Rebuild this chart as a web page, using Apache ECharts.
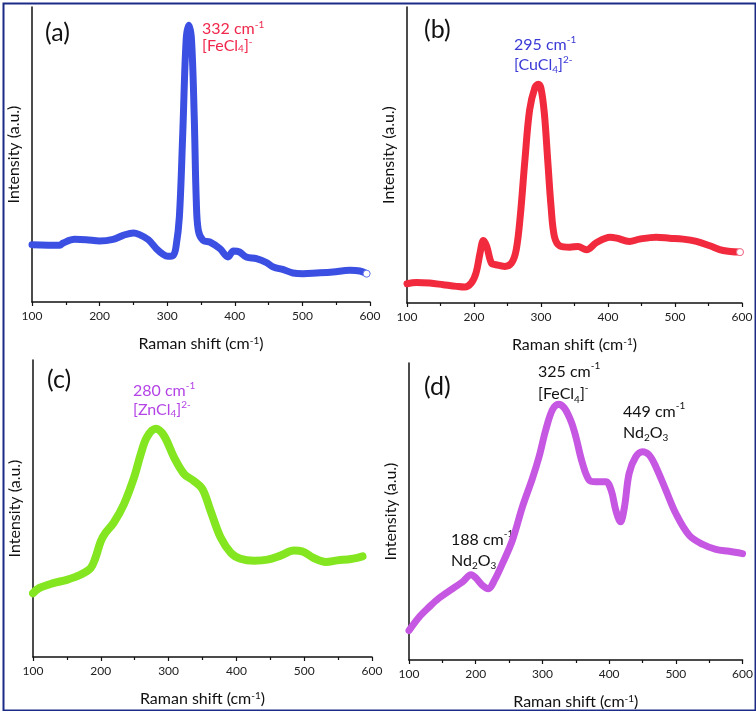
<!DOCTYPE html>
<html>
<head>
<meta charset="utf-8">
<script src="https://cdn.jsdelivr.net/npm/echarts@6/dist/echarts.min.js"></script>
<style>
html,body{margin:0;padding:0;background:#fff;}
#c{width:756px;height:711px;}
</style>
</head>
<body>
<div id="c"></div>
<script>
// ---- Data ----
const xTicks = [100, 200, 300, 400, 500, 600];

const ramanA = [100,141,146,163,180,200,220,235,250,259,272,284,294,301,309,313,318,323,328,332,336,340,343,346,353,363,378,390,398,407,417,432,447,457,472,486,501,521,545,570,585,595];
const intensityA = [172,170,177,188,187,183,188,200,207,202,187,160,143,137,140,165,255,505,785,830,785,555,305,215,185,180,160,135,153,150,135,130,118,105,97,87,85,87,90,95,93,85];

const ramanB = [100,114,134,154,174,186,196,203,209,214,219,226,233,246,256,263,269,276,283,291,296,300,305,310,315,320,328,343,355,368,383,403,413,432,447,472,492,512,532,552,572,597];
const intensityB = [58,62,60,55,50,48,60,90,150,188,170,120,115,110,120,160,260,430,580,648,658,645,570,430,290,200,172,168,170,160,182,198,195,185,192,198,195,192,185,172,158,153];

const ramanC = [100,109,130,150,170,185,192,200,207,219,234,249,259,268,281,293,308,323,337,350,362,377,392,406,426,446,465,485,497,514,532,549,569,586];
const intensityC = [190,205,220,230,245,265,295,345,370,400,455,535,605,655,680,660,595,545,525,500,435,355,310,293,287,290,302,317,315,295,283,288,292,300];

const ramanD = [100,115,130,145,165,180,193,200,210,219,228,240,255,270,285,295,305,315,324,333,343,350,360,370,380,395,403,410,417,423,430,440,450,460,470,485,500,520,540,560,580,600];
const intensityD = [88,128,158,185,213,233,255,246,223,213,238,288,358,458,543,608,688,748,765,753,713,668,588,538,533,533,508,448,413,458,558,608,623,613,578,508,438,373,346,331,325,318];

const yMaxA = 885, yMaxB = 890, yMaxC = 885, yMaxD = 888;

const panelLabels = ['(a)', '(b)', '(c)', '(d)'];
const annotA = '332 cm{sup|-1}\n[FeCl{sub|4}]{sup|-}';
const annotB = '295 cm{sup|-1}\n[CuCl{sub|4}]{sup|2-}';
const annotC = '280 cm{sup|-1}\n[ZnCl{sub|4}]{sup|2-}';
const annotD1 = '325 cm{sup|-1}\n[FeCl{sub|4}]{sup|-}';
const annotD2 = '449 cm{sup|-1}\nNd{sub|2}O{sub|3}';
const annotD3 = '188 cm{sup|-1}\nNd{sub|2}O{sub|3}';

// ---- Chart ----
const FONT = 'Lato, "Open Sans", sans-serif';
const pair = (xs, ys) => xs.map((x, i) => [x, ys[i]]);

function richFor(color, size) {
  return {
    sup: {fontSize: Math.round(size * 0.64), verticalAlign: 'top', lineHeight: 10, color: color, fontFamily: FONT},
    sub: {fontSize: Math.round(size * 0.64), verticalAlign: 'bottom', lineHeight: 10, color: color, fontFamily: FONT}
  };
}

const grids = [
  {left: 32, top: 7, width: 338, height: 295},
  {left: 407, top: 7, width: 335, height: 296},
  {left: 33, top: 360, width: 339, height: 297},
  {left: 409, top: 363, width: 334, height: 297}
];
const yMaxes = [yMaxA, yMaxB, yMaxC, yMaxD];

const xAxes = grids.map((g, i) => ({
  type: 'value', gridIndex: i, min: xTicks[0], max: xTicks[xTicks.length - 1], interval: 100,
  name: 'Raman shift (cm{sup|-1})', nameLocation: 'middle', nameGap: 34,
  nameTextStyle: {fontSize: 16, color: '#111', fontFamily: FONT, rich: richFor('#111', 16)},
  axisLine: {show: true, onZero: false, lineStyle: {color: '#111', width: 1.5}},
  axisTick: {show: true, length: 4, lineStyle: {color: '#111', width: 1.2}},
  minorTick: {show: true, splitNumber: 2, length: 3, lineStyle: {color: '#111', width: 1.2}},
  axisLabel: {fontSize: 12, color: '#222', margin: 8, fontFamily: FONT},
  splitLine: {show: false}
}));
const yAxes = grids.map((g, i) => ({
  type: 'value', gridIndex: i, min: 0, max: yMaxes[i],
  name: 'Intensity (a.u.)', nameLocation: 'middle', nameGap: 10,
  nameTextStyle: {fontSize: 16, color: '#111', fontFamily: FONT},
  axisLine: {show: true, onZero: false, lineStyle: {color: '#111', width: 1.5}},
  axisTick: {show: false}, axisLabel: {show: false}, splitLine: {show: false}
}));

function lineSeries(i, xs, ys, color, width, endMarker) {
  const s = {
    type: 'line', xAxisIndex: i, yAxisIndex: i, data: pair(xs, ys), smooth: 0.35,
    showSymbol: false, symbol: 'none',
    lineStyle: {color: color, width: width, cap: 'round', join: 'round'},
    itemStyle: {color: color}, silent: true, animation: false
  };
  if (endMarker) {
    const n = xs.length - 1;
    s.markPoint = {
      silent: true, symbol: 'circle', symbolSize: 7, label: {show: false},
      itemStyle: {color: '#fff', borderColor: endMarker, borderWidth: 1},
      data: [{coord: [xs[n], ys[n]]}]
    };
  }
  return s;
}

function textEl(left, top, text, color, size, lh) {
  return {
    type: 'text', left: left, top: top, silent: true,
    style: {text: text, fill: color, font: size + 'px ' + FONT, lineHeight: lh, rich: richFor(color, size)}
  };
}

const option = {
  backgroundColor: '#fff',
  animation: false,
  grid: grids,
  xAxis: xAxes,
  yAxis: yAxes,
  series: [
    lineSeries(0, ramanA, intensityA, '#3b4fe2', 7, '#6a78ea'),
    lineSeries(1, ramanB, intensityB, '#f22a3e', 7, '#f06a8a'),
    lineSeries(2, ramanC, intensityC, '#84e620', 8, null),
    lineSeries(3, ramanD, intensityD, '#c657e2', 7, null)
  ],
  graphic: [
    {type: 'rect', left: 1, top: 1, silent: true, shape: {width: 752, height: 707},
     style: {fill: 'none', stroke: '#1c2c86', lineWidth: 2}},
    textEl(45, 20, panelLabels[0], '#111', 25, 25),
    textEl(424, 17, panelLabels[1], '#111', 25, 25),
    textEl(47, 367, panelLabels[2], '#111', 25, 25),
    textEl(424, 374, panelLabels[3], '#111', 25, 25),
    textEl(202, 20, annotA, '#f0284c', 16, 17),
    textEl(514, 35, annotB, '#3a3ad6', 16, 20),
    textEl(133, 381, annotC, '#b444e6', 16, 19),
    textEl(538, 361, annotD1, '#111', 16, 22),
    textEl(623, 401, annotD2, '#111', 16, 21),
    textEl(451, 529, annotD3, '#111', 16, 21)
  ]
};

const chart = echarts.init(document.getElementById('c'), null, {renderer: 'canvas'});
chart.setOption(option);
</script>
</body>
</html>
